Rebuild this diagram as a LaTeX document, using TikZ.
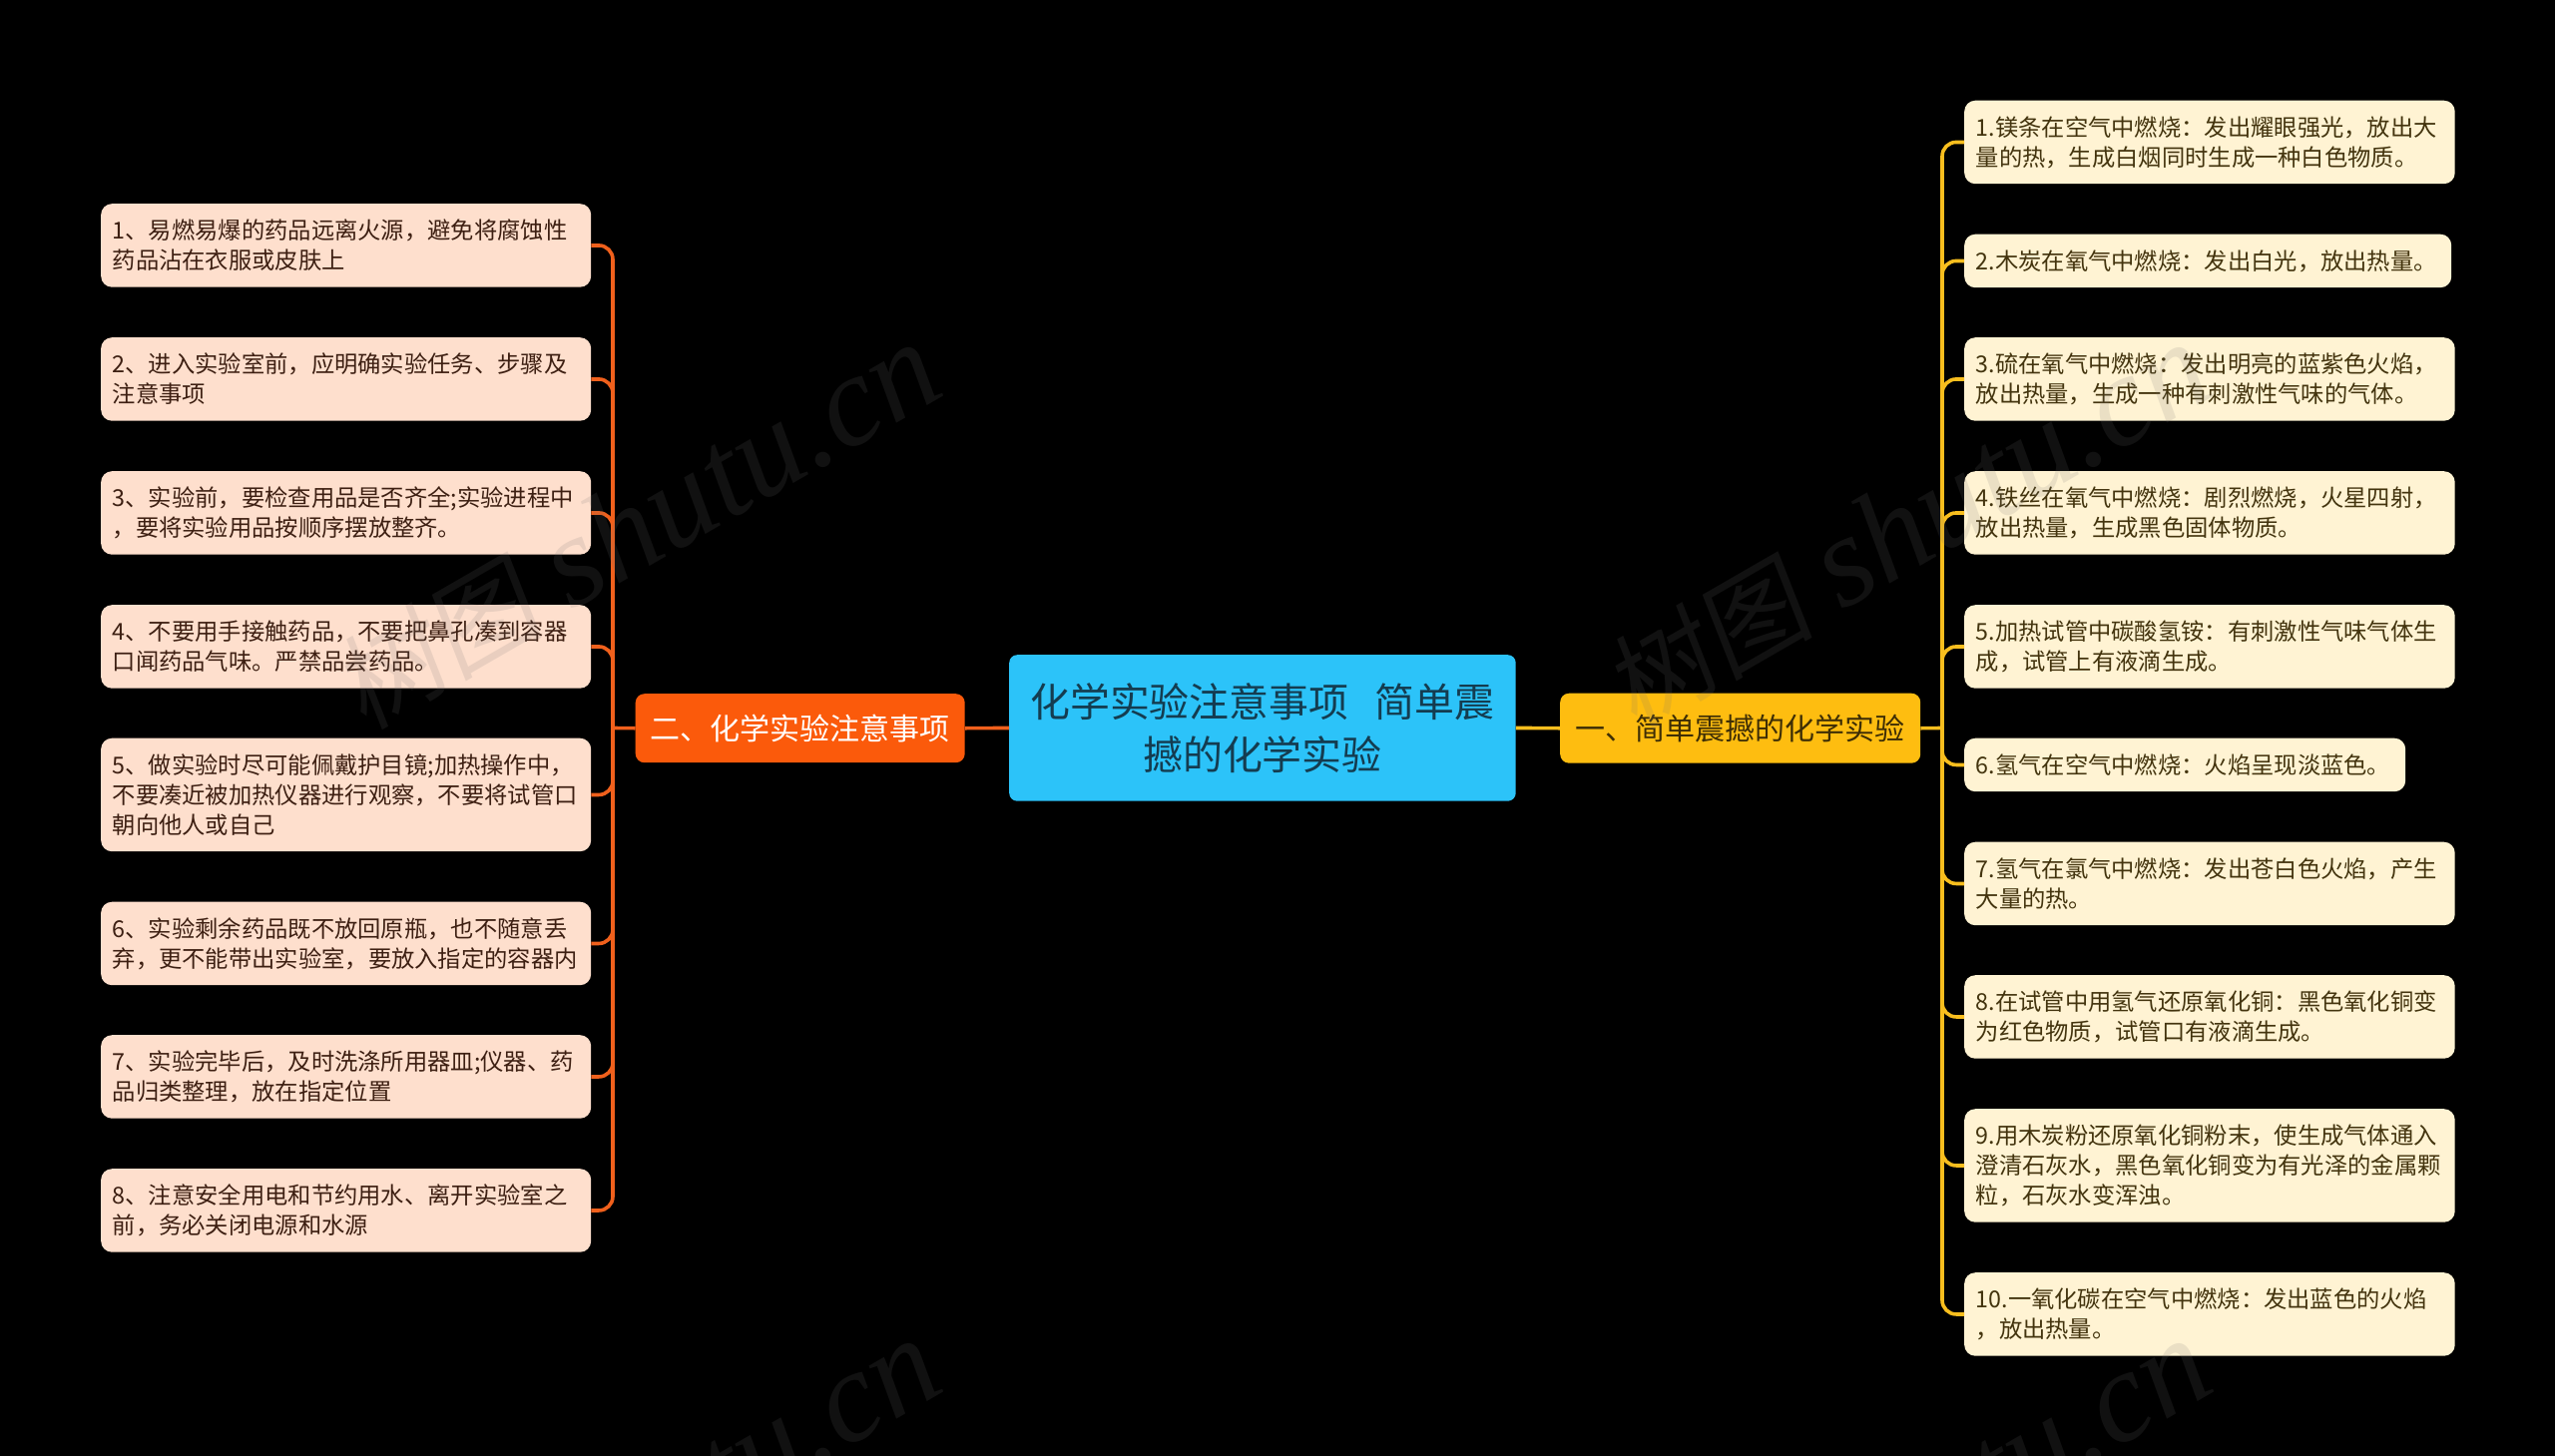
\documentclass[tikz,border=0pt]{standalone}
\usepackage{fontspec}
\setmainfont{Noto Sans CJK SC}
\newfontfamily\wmcjk[FakeSlant=0.15]{Noto Sans CJK SC}
\newfontfamily\wmlat{Liberation Serif Italic}
\definecolor{bgc}{HTML}{000000}
\definecolor{rootc}{HTML}{2CC3F9}
\definecolor{roott}{HTML}{143C50}
\definecolor{orangec}{HTML}{FB5A0B}
\definecolor{yellowc}{HTML}{FEBD10}
\definecolor{yellowt}{HTML}{3E2E05}
\definecolor{leftc}{HTML}{FEDFCD}
\definecolor{leftt}{HTML}{3D1F12}
\definecolor{rightc}{HTML}{FFF3D3}
\definecolor{rightt}{HTML}{43340E}
\definecolor{lline}{HTML}{F0601C}
\definecolor{rline}{HTML}{F8BE1E}
\tikzset{
  every node/.style={inner ysep=0pt},
  rootbox/.style={fill=rootc,text=roott,rounded corners=8pt,anchor=north west,align=center,
    minimum width=507.5pt,minimum height=146.5pt,text width=485pt,inner xsep=11pt,
    font=\fontsize{39.9}{53}\selectfont},
  lbranch/.style={fill=orangec,text=white,rounded corners=9pt,anchor=north west,align=center,
    minimum width=330pt,minimum height=69pt,font=\fontsize{30}{36}\selectfont},
  rbranch/.style={fill=yellowc,text=yellowt,rounded corners=9pt,anchor=north west,align=center,
    minimum width=361pt,minimum height=70pt,font=\fontsize{30}{36}\selectfont},
  leaf/.style={rounded corners=11pt,anchor=north west,align=left,inner xsep=11.5pt,
    font=\fontsize{23.3}{30}\selectfont},
  lleaf/.style={leaf,fill=leftc,text=leftt,minimum width=491pt,text width=468pt},
  rleaf/.style={leaf,fill=rightc,text=rightt,minimum width=491.5pt,text width=468.5pt},
  two/.style={minimum height=83.5pt},
  one/.style={minimum height=53.5pt},
  three/.style={minimum height=113.5pt},
  llink/.style={draw=lline,line width=3.6pt,rounded corners=14pt},
  rlink/.style={draw=rline,line width=3.6pt,rounded corners=14pt},
  wm/.style={text=gray!90!black,opacity=0.15,rotate=30,anchor=center,inner sep=0pt,font=\fontsize{130}{140}\selectfont},
}
\newcommand{\wmtext}{{\wmcjk\fontsize{105}{140}\selectfont 树图}\ {\wmlat shutu.cn}}
\begin{document}
\begin{tikzpicture}[x=1pt,y=-1pt]
\useasboundingbox (0,0) rectangle (2560,1459);
\fill[bgc] (0,0) rectangle (2560,1459);

\coordinate (ltrunk) at (614,729.5);
\coordinate (rtrunk) at (1946,729.5);

\node[rootbox] (root) at (1011,656) {\raisebox{1.5pt}{化学实验注意事项\ \ 简单震}\\\raisebox{1.5pt}{撼的化学实验}};
\node[lbranch] (lb) at (636.5,695) {\raisebox{1.5pt}{二、化学实验注意事项}};
\node[rbranch] (rb) at (1563,694.5) {\raisebox{1.5pt}{一、简单震撼的化学实验}};

\node[lleaf,two] (l1) at (101,204) {1、易燃易爆的药品远离火源，避免将腐蚀性\\药品沾在衣服或皮肤上};
\node[lleaf,two] (l2) at (101,338) {2、进入实验室前，应明确实验任务、步骤及\\注意事项};
\node[lleaf,two] (l3) at (101,472) {3、实验前，要检查用品是否齐全;实验进程中\\，要将实验用品按顺序摆放整齐。};
\node[lleaf,two] (l4) at (101,606) {4、不要用手接触药品，不要把鼻孔凑到容器\\口闻药品气味。严禁品尝药品。};
\node[lleaf,three] (l5) at (101,739.5) {5、做实验时尽可能佩戴护目镜;加热操作中，\\不要凑近被加热仪器进行观察，不要将试管口\\朝向他人或自己};
\node[lleaf,two] (l6) at (101,903.5) {6、实验剩余药品既不放回原瓶，也不随意丢\\弃，更不能带出实验室，要放入指定的容器内};
\node[lleaf,two] (l7) at (101,1037) {7、实验完毕后，及时洗涤所用器皿;仪器、药\\品归类整理，放在指定位置};
\node[lleaf,two] (l8) at (101,1171) {8、注意安全用电和节约用水、离开实验室之\\前，务必关闭电源和水源};

\node[rleaf,two] (r1) at (1968,100.5) {1.镁条在空气中燃烧：发出耀眼强光，放出大\\量的热，生成白烟同时生成一种白色物质。};
\node[rleaf,one,minimum width=488pt,text width=465pt] (r2) at (1968,234.5) {2.木炭在氧气中燃烧：发出白光，放出热量。};
\node[rleaf,two] (r3) at (1968,338) {3.硫在氧气中燃烧：发出明亮的蓝紫色火焰，\\放出热量，生成一种有刺激性气味的气体。};
\node[rleaf,two] (r4) at (1968,472) {4.铁丝在氧气中燃烧：剧烈燃烧，火星四射，\\放出热量，生成黑色固体物质。};
\node[rleaf,two] (r5) at (1968,606) {5.加热试管中碳酸氢铵：有刺激性气味气体生\\成，试管上有液滴生成。};
\node[rleaf,one,minimum width=442pt,text width=419pt] (r6) at (1968,739.5) {6.氢气在空气中燃烧：火焰呈现淡蓝色。};
\node[rleaf,two] (r7) at (1968,843.5) {7.氢气在氯气中燃烧：发出苍白色火焰，产生\\大量的热。};
\node[rleaf,two] (r8) at (1968,977) {8.在试管中用氢气还原氧化铜：黑色氧化铜变\\为红色物质，试管口有液滴生成。};
\node[rleaf,three] (r9) at (1968,1111) {9.用木炭粉还原氧化铜粉末，使生成气体通入\\澄清石灰水，黑色氧化铜变为有光泽的金属颗\\粒，石灰水变浑浊。};
\node[rleaf,two] (r10) at (1968,1275) {10.一氧化碳在空气中燃烧：发出蓝色的火焰\\，放出热量。};

\draw[llink] (root.west) -- (lb.east);
\draw[rlink] (root.east) -- (rb.west);
\draw[llink] (lb.west) -- (ltrunk);
\draw[rlink] (rb.east) -- (rtrunk);
\foreach \n in {l1,l2,l3,l4,l5,l6,l7,l8}
  \draw[llink] (ltrunk) -- (ltrunk |- \n.east) -- (\n.east);
\foreach \n in {r1,r2,r3,r4,r5,r6,r7,r8,r9,r10}
  \draw[rlink] (rtrunk) -- (rtrunk |- \n.west) -- (\n.west);

\begin{scope}
\clip (0,0) rectangle (2560,1459);
\node[wm] (w1) at (638,528) {\wmtext};
\node[wm] (w2) at (1911,528) {\wmtext};
\node[wm] (w3) at (638,1526) {\wmtext};
\node[wm] (w4) at (1911,1526) {\wmtext};
\end{scope}
\end{tikzpicture}
\end{document}
